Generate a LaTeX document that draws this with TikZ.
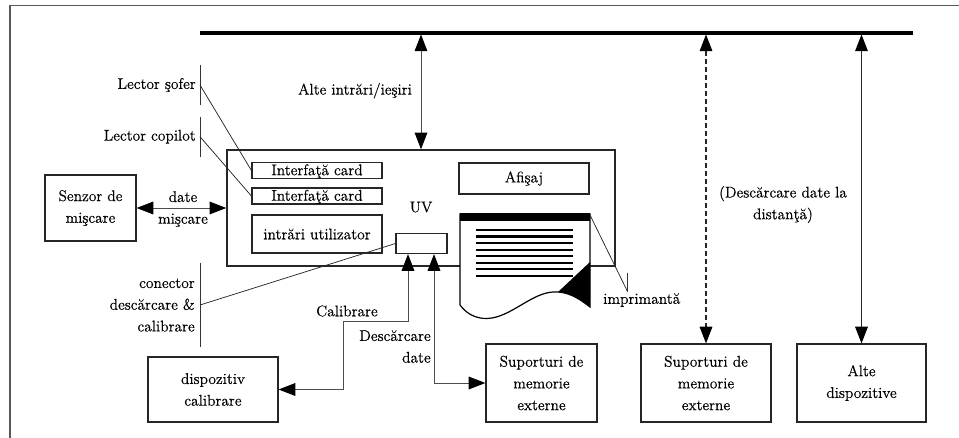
\documentclass[tikz,border=0pt]{standalone}
\usepackage{fontspec}
\setmainfont{Latin Modern Roman}[FakeBold=0.35]
\usetikzlibrary{arrows.meta}
\begin{document}
\begin{tikzpicture}[x=0.75pt,y=-0.75pt,
  every node/.style={font=\fontsize{11.6}{16.3}\selectfont, inner sep=0pt},
  box/.style={draw=black!85, line width=0.9pt, align=center},
  wh/.style 2 args={minimum width=#1*0.75pt, minimum height=#2*0.75pt},
  conn/.style={draw=black!70, line width=0.7pt},
  both/.style={{Triangle[length=12.5pt,width=9.5pt,color=black]}-{Triangle[length=12.5pt,width=9.5pt,color=black]}},
  tickline/.style={draw=black!80, line width=0.6pt},
  lead/.style={draw=black!85, line width=0.55pt},
]
\useasboundingbox (0,0) rectangle (959,438);
\fill[white] (0,0) rectangle (959,438);

% frame and system bus
\draw[black!65, line width=1.1pt] (10,438) -- (10,5.5) -- (959,5.5);
\draw[line width=2.3pt] (200,33) -- (913,33);
\coordinate (bIO)  at (421,34.5);
\coordinate (bRem) at (706,34.5);
\coordinate (bAlt) at (861.5,34.5);

% vehicle unit
\node[box, wh={388}{116}, line width=1.1pt] (uv) at (421,208) {};
\node (uvlab) at (421,207) {UV};
\node[box, wh={130}{15.5}, text height=8.5pt, text depth=1.5pt] (if1) at (317,170.5) {Interfaţă card};
\node[box, wh={130}{16}, text height=8.5pt, text depth=1.5pt] (if2) at (317,196) {Interfaţă card};
\node[box, wh={130}{38}] (inp) at (317,234) {intrări utilizator};
\node[box, wh={51}{20}] (conn) at (421.5,243.5) {};
\node[box, wh={130}{31}] (disp) at (524,178.5) {Afişaj};

% printer paper
\draw[black, line width=0.9pt, fill=white]
  (460,214) -- (590,214) -- (590,307)
  .. controls (582,301) and (572,293) .. (558,292)
  .. controls (535,290) and (515,314) .. (492,318)
  .. controls (480,320) and (468,316) .. (460,305) -- cycle;
\fill[black] (460,213.5) rectangle (590,221);
\fill[black] (590,262) -- (558,292)
  .. controls (572,293) and (582,301) .. (590,307) -- cycle;
\foreach \k in {0,...,7}
  \draw[line width=1.6pt] (476,230+\k*6.53) -- (573,230+\k*6.53);
\coordinate (paperTR) at (590,215);
\coordinate (prTick) at (627.5,291.5);
\draw[lead] (paperTR) -- (prTick);
\draw[tickline] (627.5,273) -- (prTick);
\node[anchor=west] (prlab) at (603,300) {imprimantă};

% motion sensor
\node[box, wh={91}{66}] (sens) at (90.5,208) {Senzor de\\mişcare};
\draw[conn, both] (sens.east) -- (uv.west);
\node[align=center] (motlab) at (183,209) {date\\mişcare};

% card readers
\node[anchor=east] (drv) at (196,85) {Lector şofer};
\draw[tickline] (200,65) -- (200,105);
\coordinate (drvT) at (200,85);
\draw[lead] (drvT) -- (if1.west);
\node[anchor=east] (codrv) at (196,136.7) {Lector copilot};
\draw[tickline] (200,117) -- (200,157);
\coordinate (codrvT) at (200,136.7);
\draw[lead] (codrvT) -- (if2.west);

% download & calibration connector
\node[anchor=east, align=right] (cnlab) at (195,305) {conector\\descărcare \&\\calibrare};
\draw[tickline] (200,263) -- (200,347);
\coordinate (cnT) at (200,305);
\draw[lead] (cnT) -- (conn.west);

% other inputs/outputs
\draw[conn, both] (bIO) -- (uv.north);
\node (iolab) at (355,90.7) {Alte intrări/ieşiri};

% calibration device
\node[box, wh={130}{65}] (cal) at (213,389.5) {dispozitiv\\calibrare};
\draw[conn, both] (408,0 |- conn.south) -- (408,321.7) -- (343,321.7)
  -- (343,0 |- cal.east) -- (cal.east);
\node[anchor=east] (callab) at (378,311) {Calibrare};

% external storage
\node[box, wh={111}{78}] (mem1) at (541.5,383) {Suporturi de\\memorie\\externe};
\draw[conn, both] (434,0 |- conn.south) -- (434,0 |- mem1.west) -- (mem1.west);
\node[anchor=east, align=right] (dllab) at (431,346.5) {Descărcare\\date};

\node[box, wh={130}{78}] (mem2) at (706,383) {Suporturi de\\memorie\\externe};
\draw[black!85, line width=0.8pt, dash pattern=on 3.75pt off 2.25pt, both] (bRem) -- (mem2.north);
\node[align=center] (remlab) at (783,204.5) {(Descărcare date la\\distanţă)};

\node[box, wh={129}{78}] (oth) at (861.5,383) {Alte\\dispozitive};
\draw[black!85, line width=0.8pt, both] (bAlt) -- (oth.north);
\end{tikzpicture}
\end{document}
